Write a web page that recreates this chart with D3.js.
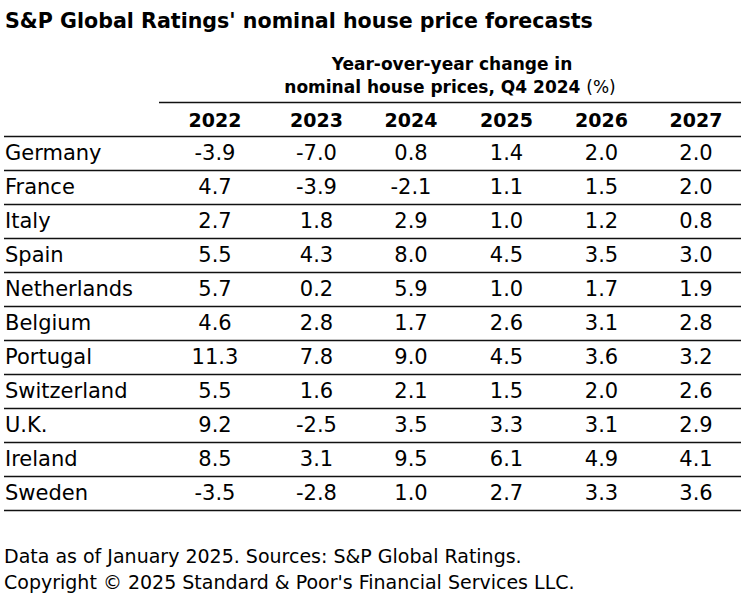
<!DOCTYPE html>
<html>
<head>
<meta charset="utf-8">
<script src="https://cdn.jsdelivr.net/npm/d3@7"></script>
<style>
  body { margin: 0; background: #fff; }
  svg { display: block; font-family: "DejaVu Sans", Verdana, sans-serif; }
</style>
</head>
<body>
<svg id="table" width="744" height="594"></svg>
<script>
// table data
const years = ["2022", "2023", "2024", "2025", "2026", "2027"];
const countries = ["Germany", "France", "Italy", "Spain", "Netherlands", "Belgium",
  "Portugal", "Switzerland", "U.K.", "Ireland", "Sweden"];
const germany = [-3.9, -7.0, 0.8, 1.4, 2.0, 2.0];
const france = [4.7, -3.9, -2.1, 1.1, 1.5, 2.0];
const italy = [2.7, 1.8, 2.9, 1.0, 1.2, 0.8];
const spain = [5.5, 4.3, 8.0, 4.5, 3.5, 3.0];
const netherlands = [5.7, 0.2, 5.9, 1.0, 1.7, 1.9];
const belgium = [4.6, 2.8, 1.7, 2.6, 3.1, 2.8];
const portugal = [11.3, 7.8, 9.0, 4.5, 3.6, 3.2];
const switzerland = [5.5, 1.6, 2.1, 1.5, 2.0, 2.6];
const uk = [9.2, -2.5, 3.5, 3.3, 3.1, 2.9];
const ireland = [8.5, 3.1, 9.5, 6.1, 4.9, 4.1];
const sweden = [-3.5, -2.8, 1.0, 2.7, 3.3, 3.6];

const title = "S&P Global Ratings' nominal house price forecasts";
const subtitle = ["Year-over-year change in", "nominal house prices, Q4 2024"];
const footnotes = [
  "Data as of January 2025. Sources: S&P Global Ratings.",
  "Copyright \u00a9 2025 Standard & Poor's Financial Services LLC."
];

const rows = [germany, france, italy, spain, netherlands, belgium,
  portugal, switzerland, uk, ireland, sweden];

const $svg = d3.select("svg#table");
const left = 4, right = 741;

// column centres are not evenly spaced in the source table
const x = d3.scaleOrdinal().domain(years).range([215, 316.5, 411, 506.5, 601.5, 696]);
const y = d3.scaleBand().domain(countries).range([136.5, 510.5]);

$svg.append("text")
  .attr("x", 5).attr("y", 28)
  .attr("font-size", 20.6).attr("font-weight", "bold")
  .text(title);

const $sub = $svg.append("g")
  .attr("text-anchor", "middle")
  .attr("font-size", 17);

$sub.append("text")
  .attr("x", 452).attr("y", 70)
  .attr("font-weight", "bold")
  .text(subtitle[0]);

const $sub2 = $sub.append("text").attr("x", 450).attr("y", 93);
$sub2.append("tspan").attr("font-weight", "bold").text(subtitle[1] + " ");
$sub2.append("tspan").text("(%)");

const line = (x1, x2, yy) =>
  $svg.append("line")
    .attr("x1", x1).attr("x2", x2)
    .attr("y1", yy).attr("y2", yy)
    .attr("stroke", "#111").attr("stroke-width", 1.5);

line(159, right, 102.5);

$svg.append("g")
  .attr("font-size", 19).attr("font-weight", "bold")
  .attr("text-anchor", "middle")
  .selectAll("text")
  .data(years)
  .join("text")
  .attr("x", (d) => x(d))
  .attr("y", 127)
  .text((d) => d);

line(left, right, y.range()[0]);

const $rows = $svg.append("g")
  .attr("font-size", 21)
  .selectAll("g")
  .data(countries)
  .join("g")
  .attr("transform", (d) => `translate(0,${y(d)})`);

$rows.append("text")
  .attr("x", 5)
  .attr("y", y.bandwidth() / 2 + 6)
  .text((d) => d);

$rows.selectAll("text.val")
  .data((d, i) => rows[i].map((v, j) => ({ year: years[j], v })))
  .join("text")
  .attr("class", "val")
  .attr("text-anchor", "middle")
  .attr("x", (d) => x(d.year))
  .attr("y", y.bandwidth() / 2 + 6)
  .text((d) => d.v.toFixed(1));

$rows.append("line")
  .attr("x1", left).attr("x2", right)
  .attr("y1", y.bandwidth()).attr("y2", y.bandwidth())
  .attr("stroke", "#111").attr("stroke-width", 1.5);

$svg.append("g")
  .attr("font-size", 19)
  .selectAll("text")
  .data(footnotes)
  .join("text")
  .attr("x", 4)
  .attr("y", (d, i) => 563 + i * 26)
  .text((d) => d);
</script>
</body>
</html>
